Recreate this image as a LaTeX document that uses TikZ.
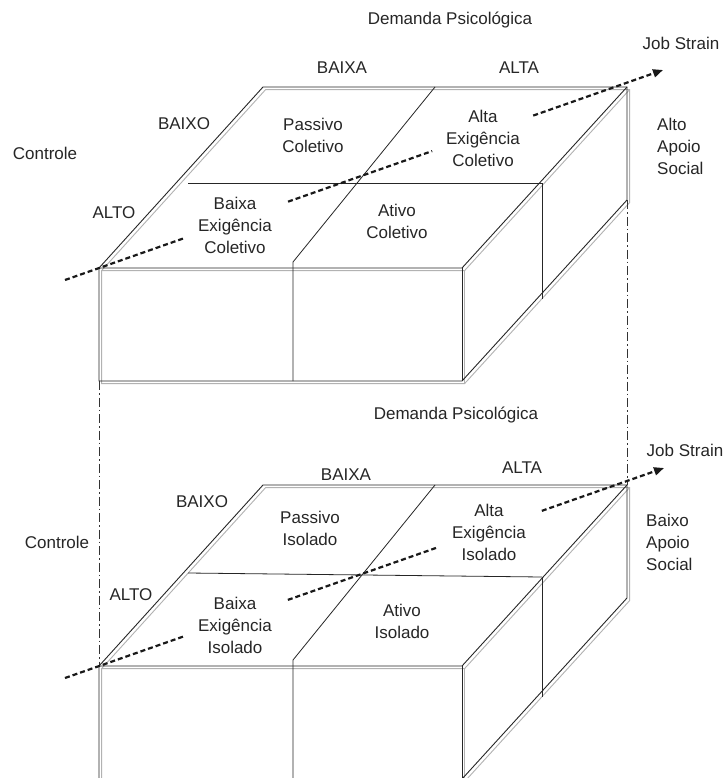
\documentclass[tikz,border=0pt]{standalone}
\usepackage{fontspec}
\setmainfont{Liberation Sans}
\usetikzlibrary{arrows.meta,calc}
\begin{document}
\begin{tikzpicture}[x=1pt,y=-1pt,
  edge/.style={black!85,line width=0.9pt,line join=miter},
  shade/.style={black!30,line width=0.9pt,line join=miter},
  inner/.style={black!85,line width=0.8pt},
  guide/.style={black!80,line width=0.7pt,dash pattern=on 9pt off 3pt on 1.5pt off 3pt},
  strain/.style={black!90,line width=2.2pt,dash pattern=on 5pt off 3pt},
  lbl/.style={inner sep=0pt,align=center,text=black!85,font=\fontsize{17}{22}\selectfont},
  side/.style={lbl,align=left,anchor=west},
]
\useasboundingbox (0,0) rectangle (726,778);
\fill[white] (0,0) rectangle (726,778);
\clip (0,0) rectangle (726,778);

% two stacked cuboids: outline with a light offset copy behind it
\foreach \o in {0,398}{
  \begin{scope}[shift={(0,\o)}]
    \begin{scope}[shift={(2.6,2.6)}]
      \draw[shade] (99,268) -- (263,87) -- (627,87) -- (627,200) -- (462,381) -- (99,381) -- cycle;
      \draw[shade] (99,268) -- (462,268) -- (627,87);
      \draw[shade] (462,268) -- (462,381);
    \end{scope}
    \draw[edge] (99,268) -- (263,87) -- (627,87) -- (627,200) -- (462,381) -- (99,381) -- cycle;
    \draw[edge] (99,268) -- (462,268) -- (627,87);
    \draw[edge] (462,268) -- (462,381);
  \end{scope}
}

% quadrant dividers, upper cuboid
\draw[inner] (188,183) -- (542,183);
\draw[inner] (542,183) -- (542,299);
\draw[inner] (435,87) -- (293,262) -- (293,381);
% quadrant dividers, lower cuboid
\draw[inner] (188,573) -- (542,577);
\draw[inner] (542,577) -- (542,697);
\draw[inner] (435,485) -- (293,660) -- (293,790);

% corners joined by the dash-dot guides
\coordinate (Et) at (99,381);
\coordinate (Ab) at (99,666);
\coordinate (Gt) at (627,200);
\coordinate (Cb) at (627,485);
\draw[guide] (Et) -- (Ab);
\draw[guide] (Gt) -- (Cb);

% job strain diagonals
\coordinate (ja) at (65,280);
\coordinate (jb) at (663,70);
\draw[strain] (ja) -- ($(ja)!0.2007!(jb)$);
\draw[strain] ($(ja)!0.373!(jb)$) -- ($(ja)!0.614!(jb)$);
\draw[strain,-{Triangle[length=10pt,width=8pt]}] ($(ja)!0.783!(jb)$) -- (jb);

\coordinate (ka) at (65,678);
\coordinate (kb) at (664,468);
\draw[strain] (ka) -- ($(ka)!0.2003!(kb)$);
\draw[strain] ($(ka)!0.372!(kb)$) -- ($(ka)!0.623!(kb)$);
\draw[strain,-{Triangle[length=10pt,width=8pt]}] ($(ka)!0.796!(kb)$) -- (kb);

% labels, upper cuboid
\node[lbl] (dem1) at (450,20) {Demanda Psicológica};
\node[lbl] (js1) at (681,43) {Job Strain};
\node[lbl] (baixa1) at (342,68) {BAIXA};
\node[lbl] (alta1) at (519,68) {ALTA};
\node[lbl] (baixo1) at (184,124) {BAIXO};
\node[lbl] (ctrl1) at (45,153) {Controle};
\node[lbl] (alto1) at (114,213) {ALTO};
\node[lbl] (pas1) at (313,135) {Passivo\\Coletivo};
\node[lbl] (bex1) at (235,225) {Baixa\\Exigência\\Coletivo};
\node[lbl] (aex1) at (483,138) {Alta\\Exigência\\Coletivo};
\node[lbl] (ati1) at (397,221) {Ativo\\Coletivo};
\node[side] (apo1) at (657,146) {Alto\\Apoio\\Social};

% labels, lower cuboid
\node[lbl] (dem2) at (456,415) {Demanda Psicológica};
\node[lbl] (js2) at (685,450) {Job Strain};
\node[lbl] (baixa2) at (346,475) {BAIXA};
\node[lbl] (alta2) at (522,468) {ALTA};
\node[lbl] (baixo2) at (202,502) {BAIXO};
\node[lbl] (ctrl2) at (57,542) {Controle};
\node[lbl] (alto2) at (131,595) {ALTO};
\node[lbl] (pas2) at (310,528) {Passivo\\Isolado};
\node[lbl] (bex2) at (235,625) {Baixa\\Exigência\\Isolado};
\node[lbl] (aex2) at (489,532) {Alta\\Exigência\\Isolado};
\node[lbl] (ati2) at (402,621) {Ativo\\Isolado};
\node[side] (apo2) at (646,542) {Baixo\\Apoio\\Social};
\end{tikzpicture}
\end{document}
